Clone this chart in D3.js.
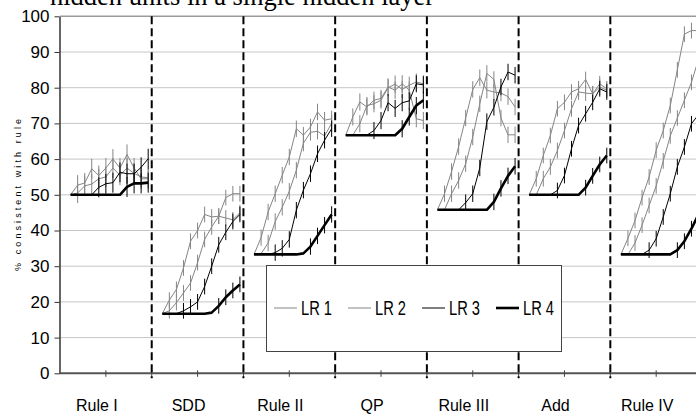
<!DOCTYPE html>
<html>
<head>
<meta charset="utf-8">
<script src="https://cdn.jsdelivr.net/npm/d3@7"></script>
<style>
  html, body { margin: 0; padding: 0; background: #fff; overflow: hidden; }
  text { font-family: "Liberation Sans", Arial, sans-serif; }
</style>
</head>
<body>
<svg id="chart" width="696" height="414"></svg>
<script>
// Task groups along the x axis and the chance level each one starts from
const groups = ["Rule I", "SDD", "Rule II", "QP", "Rule III", "Add", "Rule IV"];
const chance = [50, 16.7, 33.3, 66.7, 45.8, 50, 33.3];

// % consistent with rule, 12 training stages per group, one row per group
const lr1 = [
  [50, 52.7, 53.3, 57.3, 55.4, 57.5, 60, 57.5, 61.3, 57.5, 54.5, 54.5],
  [16.7, 20.5, 23.5, 29.5, 37, 40, 44.5, 43.8, 44, 49.2, 50.3, 50.3],
  [33.3, 38, 45.2, 50.3, 55.5, 60.6, 68.5, 66.7, 69, 73.2, 70.9, 71.3],
  [66.7, 71.8, 76, 74.6, 76.5, 77, 80.2, 79.3, 81.1, 79.3, 71.3, 70.8],
  [45.8, 50.3, 56.5, 63.5, 71.5, 79.5, 82.8, 79.3, 78.8, 78.5, 77.5, 74.6],
  [50, 54.5, 61, 66.6, 74.1, 75.9, 78.8, 79.7, 82.3, 78.3, 81.1, 79.7],
  [33.3, 37.8, 42.8, 49.2, 55, 62.5, 68, 75, 85, 95, 96, 96]
];
const lr2 = [
  [50, 50.5, 52.5, 53, 54.5, 55, 57.5, 55.5, 57.5, 56, 55, 54.8],
  [16.7, 17.5, 19.8, 22.5, 25.3, 31, 37.5, 41, 44, 43.5, 43, 45],
  [33.3, 33.5, 36.5, 42.5, 46.5, 51, 56.9, 64.5, 67.5, 67.8, 66.5, 70],
  [66.7, 66.7, 69.9, 75, 75.5, 76.5, 80, 81, 79.5, 80.7, 81.6, 81.1],
  [45.8, 45.8, 50.3, 54, 58.7, 66.2, 75.5, 84, 82.3, 71.5, 66.8, 66.8],
  [50, 50, 54.5, 57.8, 62.4, 68, 74.1, 78.8, 78.5, 78.3, 80.2, 79.3],
  [33.3, 33.3, 36.5, 41.5, 47, 52.5, 59.5, 66.5, 71.5, 76.5, 81.5, 88]
];
const lr3 = [
  [50, 50, 50, 50, 52.1, 53.1, 53.4, 56.3, 55.9, 55.9, 57.7, 60.1],
  [16.7, 16.7, 16.7, 17.5, 18.6, 20, 24.3, 30, 36, 39.5, 42.5, 44.5],
  [33.3, 33.3, 33.3, 33.8, 35, 37.5, 45.7, 51.3, 55.9, 61.5, 65.3, 68.5],
  [66.7, 66.7, 66.7, 66.7, 68, 70.8, 75.8, 74.2, 75.8, 76.3, 81.1, 80.8],
  [45.8, 45.8, 45.8, 45.8, 47.8, 50.3, 57.5, 70.5, 74.5, 80.2, 84.4, 83.5],
  [50, 50, 50, 50, 51.2, 55.4, 62.9, 69.4, 72.7, 75.9, 79.7, 78.8],
  [33.3, 33.3, 33.3, 33.3, 34.5, 37.7, 43.8, 50.3, 57.8, 63.4, 69.9, 72.5]
];
const lr4 = [
  [50, 50, 50, 50, 50, 50, 50, 50, 52.2, 53.2, 53.2, 53.4],
  [16.7, 16.7, 16.7, 16.7, 16.7, 16.7, 16.7, 17, 18.9, 21.3, 23.2, 24.9],
  [33.3, 33.3, 33.3, 33.3, 33.3, 33.3, 33.3, 33.6, 35.5, 38.5, 41.5, 44.5],
  [66.7, 66.7, 66.7, 66.7, 66.7, 66.7, 66.7, 66.7, 68.5, 71.8, 75, 76.5],
  [45.8, 45.8, 45.8, 45.8, 45.8, 45.8, 45.8, 45.8, 48, 51.8, 55.3, 58],
  [50, 50, 50, 50, 50, 50, 50, 50, 52, 55.3, 58.5, 61],
  [33.3, 33.3, 33.3, 33.3, 33.3, 33.3, 33.3, 33.3, 34.5, 37, 40.5, 44.5]
];

// Standard-error half width per group (percentage points)
const stdErr = [2.8, 2.2, 2.3, 2.4, 2.3, 2.2, 2.2];

const seriesNames = ["LR 1", "LR 2", "LR 3", "LR 4"];
const yTicks = [0, 10, 20, 30, 40, 50, 60, 70, 80, 90, 100];
const titleText = "hidden units in a single hidden layer";
const yTitle = "% consistent with rule";

// ---- layout ----
const W = 696;
const slots = 13;               // 12 stages + 1 spacer slot per group
const left = 60, groupW = 91.72;
const svg = d3.select("#chart");

const x = d3.scaleLinear()
  .domain([0, groups.length * slots])
  .range([left, left + groups.length * groupW]);
const y = d3.scaleLinear().domain([0, 100]).range([373.3, 16.3]);
const px = (g, k) => x(g * slots + k + 1.5);

const seriesData = [lr1, lr2, lr3, lr4];
const seriesStyle = [
  { color: "#858585", width: 1 },
  { color: "#858585", width: 1 },
  { color: "#000", width: 1 },
  { color: "#000", width: 2.6 }
];

// title (runs off the top edge)
svg.append("text")
  .attr("x", 50).attr("y", 5)
  .style("font-family", '"Liberation Serif", "Times New Roman", serif')
  .style("font-size", "26.5px")
  .attr("fill", "#000")
  .text(titleText);

// horizontal gridlines
svg.append("g").selectAll("line")
  .data(yTicks.filter(t => t > 0 && t < 100))
  .join("line")
  .attr("x1", left).attr("x2", W)
  .attr("y1", d => y(d)).attr("y2", d => y(d))
  .attr("stroke", "#c6c6c6").attr("stroke-width", 1);

// top frame line at 100
svg.append("line")
  .attr("x1", left).attr("x2", W)
  .attr("y1", y(100)).attr("y2", y(100))
  .attr("stroke", "#9a9a9a").attr("stroke-width", 1.5);

// y axis
const yAxis = svg.append("g")
  .attr("transform", `translate(${left - 0.5},0)`)
  .call(d3.axisLeft(y).tickValues(yTicks).tickSize(5).tickPadding(5).tickSizeOuter(0));
yAxis.select(".domain").attr("stroke", "#333").attr("stroke-width", 1.5);
yAxis.selectAll(".tick line").attr("stroke", "#333");
yAxis.selectAll(".tick text")
  .style("font-family", '"Liberation Sans", Arial, sans-serif')
  .style("font-size", "17px").attr("fill", "#000");

// y axis title
svg.append("text")
  .attr("transform", `translate(21,195) rotate(-90)`)
  .attr("text-anchor", "middle")
  .attr("textLength", 152).attr("lengthAdjust", "spacing")
  .style("font-size", "9px").attr("fill", "#000")
  .text(yTitle);

// x axis line and ticks every half group
svg.append("line")
  .attr("x1", left - 1).attr("x2", W)
  .attr("y1", y(0)).attr("y2", y(0))
  .attr("stroke", "#555").attr("stroke-width", 2);
const halfTicks = d3.range(1, groups.length * 2 + 1).map(j => j * slots / 2);
svg.append("g").selectAll("line")
  .data(halfTicks)
  .join("line")
  .attr("x1", d => x(d)).attr("x2", d => x(d))
  .attr("y1", y(0) - 3).attr("y2", y(0) + 3.5)
  .attr("stroke", "#444").attr("stroke-width", 1);

// dashed separators between groups
svg.append("g").selectAll("line")
  .data(d3.range(1, groups.length))
  .join("line")
  .attr("x1", d => x(d * slots)).attr("x2", d => x(d * slots))
  .attr("y1", y(100)).attr("y2", y(0) + 5)
  .attr("stroke", "#000").attr("stroke-width", 2)
  .attr("stroke-dasharray", "8,4");

// group labels
svg.append("g").selectAll("text")
  .data(groups)
  .join("text")
  .attr("x", (d, i) => x(i * slots + slots / 2) - 9)
  .attr("y", 411)
  .attr("text-anchor", "middle")
  .style("font-size", "16px").attr("fill", "#000")
  .text(d => d);

// series lines with error bars
const line = d3.line().x(d => d.x).y(d => y(d.v));
seriesData.forEach((rows, s) => {
  const st = seriesStyle[s];
  const gS = svg.append("g").attr("class", "series-" + (s + 1));
  rows.forEach((vals, g) => {
    const pts = vals.map((v, k) => ({ x: px(g, k), v, g }));
    gS.append("g").selectAll("line")
      .data(pts.filter(p => p.v - chance[g] > 0.4))
      .join("line")
      .attr("x1", p => p.x).attr("x2", p => p.x)
      .attr("y1", p => y(p.v - stdErr[g])).attr("y2", p => y(p.v + stdErr[g]))
      .attr("stroke", st.color).attr("stroke-width", 1);
    gS.append("path")
      .datum(pts)
      .attr("d", line)
      .attr("fill", "none")
      .attr("stroke", st.color)
      .attr("stroke-width", st.width)
      .attr("stroke-linejoin", "round");
  });
});

// legend
const lg = svg.append("g");
lg.append("rect")
  .attr("x", 266.5).attr("y", 265.5).attr("width", 295).attr("height", 86)
  .attr("fill", "#fff").attr("stroke", "#444").attr("stroke-width", 1);
seriesNames.forEach((name, i) => {
  const x0 = 274 + i * 74;
  lg.append("line")
    .attr("x1", x0).attr("x2", x0 + 23)
    .attr("y1", 308).attr("y2", 308)
    .attr("stroke", seriesStyle[i].color)
    .attr("stroke-width", seriesStyle[i].width);
  lg.append("text")
    .attr("x", x0 + 27).attr("y", 315)
    .attr("textLength", 31).attr("lengthAdjust", "spacingAndGlyphs")
    .style("font-size", "21px").attr("fill", "#000")
    .text(name);
});
</script>
</body>
</html>
